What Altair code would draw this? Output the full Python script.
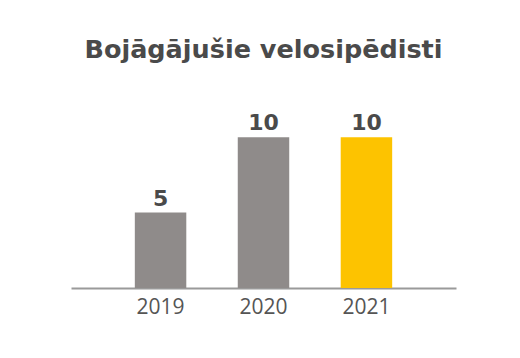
import altair as alt
import pandas as pd

years = ["2019", "2020", "2021"]
values = [5, 10, 10]
colors = ["#8f8b8a", "#8f8b8a", "#fdc300"]

df = pd.DataFrame({"year": years, "value": values, "color": colors})

base = alt.Chart(df).encode(
    x=alt.X("year:N", sort=years,
            scale=alt.Scale(paddingInner=0.5, paddingOuter=0.62),
            axis=alt.Axis(title=None, labelAngle=0, ticks=False, domainColor="#9a9a9a",
                          domainWidth=2, labelFont="Open Sans", labelFontSize=21,
                          labelColor="#555555", labelPadding=8, grid=False)),
    y=alt.Y("value:Q", scale=alt.Scale(domain=[0, 12]), axis=None),
)

bars = base.mark_bar().encode(color=alt.Color("color:N", scale=None))
labels = base.mark_text(baseline="alphabetic", dy=-7, font="DejaVu Sans", fontWeight="bold",
                        fontSize=22, color="#4a4a4a").encode(text="value:Q")

chart = (bars + labels).properties(
    width=385, height=181,
    autosize=alt.AutoSizeParams(type="none"),
    padding={"left": 63, "top": 99, "right": 56, "bottom": 50},
    title=alt.TitleParams("Bojāgājušie velosipēdisti", anchor="middle", font="DejaVu Sans",
                          fontSize=25.5, fontWeight="bold", color="#4a4a4a",
                          baseline="alphabetic", offset=24),
).configure_view(stroke=None)

chart.save("out.html", embed_options={"renderer": "svg", "actions": False})
